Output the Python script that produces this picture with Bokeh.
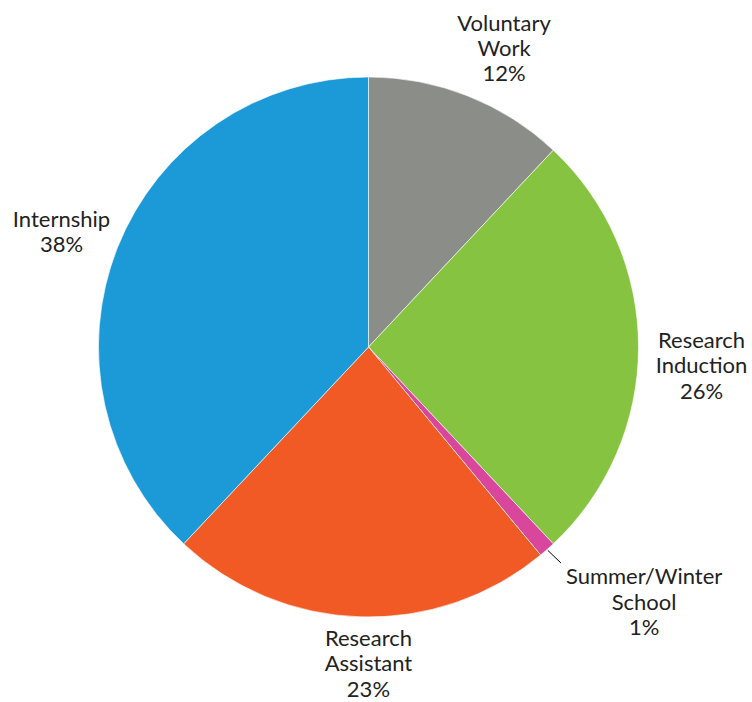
import math
from bokeh.plotting import figure
from bokeh.models import Range1d, ColumnDataSource
from bokeh.core.properties import value
from bokeh.embed import file_html
from bokeh.resources import INLINE

# ---- data ----
categories = ["Voluntary Work", "Research Induction", "Summer/Winter School",
              "Research Assistant", "Internship"]
label_text = ["Voluntary\nWork", "Research\nInduction", "Summer/Winter\nSchool",
              "Research\nAssistant", "Internship"]
shares = [12, 26, 1, 23, 38]
colors = ["#8b8e88", "#86c341", "#d8479b", "#f15a24", "#1b9ad7"]

# ---- layout (picture px) ----
W, H = 752, 702
CX, CY = 368, 346.5      # pie centre
R = 270
LABEL_R = 320
# per-label nudges (px: dx right, dy down)
nudges = [(17.7, -2), (13, 18), (64, 14), (10, -4), (-9.5, 2)]

p = figure(width=W, height=H, output_backend="svg", toolbar_location=None,
           x_range=Range1d(0, W), y_range=Range1d(-H, 0),
           min_border=0)
p.axis.visible = False
p.grid.visible = False
p.outline_line_color = None
p.background_fill_color = "white"
p.border_fill_color = "white"

total = sum(shares)
starts, ends, mids = [], [], []
cum = 0.0
for s in shares:
    a0 = math.pi / 2 - 2 * math.pi * cum / total
    cum += s
    a1 = math.pi / 2 - 2 * math.pi * cum / total
    starts.append(a0)
    ends.append(a1)
    mids.append((a0 + a1) / 2)

src = ColumnDataSource(dict(start=starts, end=ends, color=colors,
                            x=[CX] * len(shares), y=[-CY] * len(shares)))
p.wedge(x="x", y="y", radius=R, start_angle="start", end_angle="end",
        direction="clock", fill_color="color", line_color="white",
        line_width=0.6, source=src)

# labels
lx, ly, lt = [], [], []
for m, txt, s, (dx, dy) in zip(mids, label_text, shares, nudges):
    lx.append(CX + LABEL_R * math.cos(m) + dx)
    ly.append(-CY + LABEL_R * math.sin(m) - dy)
    lt.append(f"{txt}\n{s}%")

p.text(x=lx, y=ly, text=lt, text_align="center", text_baseline="middle",
       text_font=value("Lato"), text_font_size="22px", text_color="#222222",
       text_line_height=0.94)

# leader line for the small slice
sm = mids[2]
p.line(x=[CX + (R + 1) * math.cos(sm), CX + (R + 18) * math.cos(sm) + 2],
       y=[-CY + (R + 1) * math.sin(sm), -CY + (R + 18) * math.sin(sm)],
       line_color="black", line_width=1)

open("out.html", "w").write(file_html(p, INLINE))
